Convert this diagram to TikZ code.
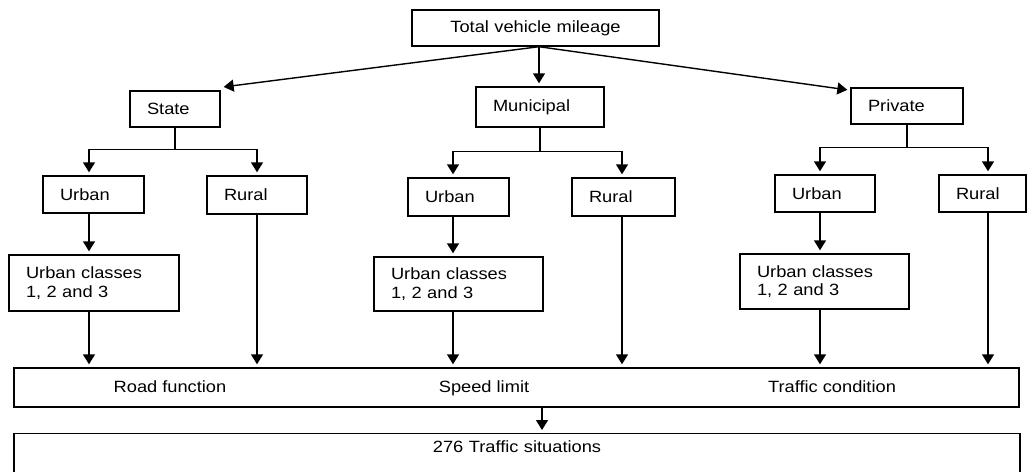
\documentclass[tikz,border=0pt]{standalone}
\usepackage{fontspec}
\setmainfont{Liberation Sans}[FakeStretch=1.12]
\usetikzlibrary{arrows.meta}
\begin{document}
\begin{tikzpicture}[x=1pt, y=-1pt, line width=1.4pt,
  box/.style={draw, align=left, inner xsep=17pt, inner ysep=0pt,
    font=\fontsize{16.3}{18.5}\selectfont},
  lbl/.style={inner sep=0pt, font=\fontsize{16.3}{18.5}\selectfont},
  arr/.style={-{Triangle[length=10pt,width=12pt]}, shorten >=3pt}]
\useasboundingbox (0,0) rectangle (1032,471);

% columns of the vertical connectors
\coordinate (c0) at (539,0);
\coordinate (c1) at (89,0);
\coordinate (c2) at (257,0);
\coordinate (c3) at (453,0);
\coordinate (c4) at (622,0);
\coordinate (c5) at (820,0);
\coordinate (c6) at (988,0);
\coordinate (c7) at (542,0);

% top level
\node[box, align=center, text width=213pt, minimum height=36pt] (tot) at (535.5,28) {Total vehicle mileage};

% road owners
\node[box, text width=56pt, minimum height=36pt] (state) at (175,109) {State};
\node[box, text width=94pt, minimum height=40pt] (mun) at (540,107) {Municipal};
\node[box, text width=78pt, minimum height=36pt] (priv) at (907,106) {Private};

% urban / rural split
\node[box, text width=67pt, minimum height=37pt] (su) at (93.5,194.5) {Urban};
\node[box, text width=66pt, minimum height=38pt] (sr) at (257,195) {Rural};
\node[box, text width=67pt, minimum height=38pt] (mu) at (458.5,197) {Urban};
\node[box, text width=69pt, minimum height=38pt] (mr) at (623.5,197) {Rural};
\node[box, text width=66pt, minimum height=37pt] (pu) at (825,193.5) {Urban};
\node[box, text width=53pt, minimum height=37pt] (pr) at (982.5,193.5) {Rural};

% urban classes
\node[box, text width=136pt, minimum height=56pt] (suc) at (94,283) {Urban classes\\1, 2 and 3};
\node[box, text width=135pt, minimum height=54pt] (muc) at (458.5,284) {Urban classes\\1, 2 and 3};
\node[box, text width=135pt, minimum height=55pt] (puc) at (824.5,281.5) {Urban classes\\1, 2 and 3};

% attribute bar
\node[draw, inner sep=0pt, minimum width=1005pt, minimum height=39pt] (bar) at (516.5,387.5) {};
\node[lbl, anchor=base] (rf) at (170,392) {Road function};
\node[lbl, anchor=base] (sl) at (484,392) {Speed limit};
\node[lbl, anchor=base] (tc) at (832,392) {Traffic condition};

% result
\node[draw, anchor=north, inner sep=0pt, text width=1006pt, align=center,
  text height=19pt, text depth=25pt, font=\fontsize{16.3}{18.5}\selectfont] (sit) at (517,433) {276 Traffic situations};

% connectors from the top box
\draw[arr] (c0 |- tot.south) -- ([yshift=3pt]state.north east);
\draw[arr] (c0 |- tot.south) -- (c0 |- mun.north);
\draw[arr] (c0 |- tot.south) -- ([yshift=-3pt]priv.north west);

% owner -> urban / rural
\draw[arr] (state.south) -- ++(0,22) -| (c1 |- su.north);
\draw[arr] (state.south) ++(0,22) -| (c2 |- sr.north);
\draw[arr] (mun.south) -- ++(0,24) -| (c3 |- mu.north);
\draw[arr] (mun.south) ++(0,24) -| (c4 |- mr.north);
\draw[arr] (priv.south) -- ++(0,23) -| (c5 |- pu.north);
\draw[arr] (priv.south) ++(0,23) -| (c6 |- pr.north);

% urban -> classes
\draw[arr] (c1 |- su.south) -- (c1 |- suc.north);
\draw[arr] (c3 |- mu.south) -- (c3 |- muc.north);
\draw[arr] (c5 |- pu.south) -- (c5 |- puc.north);

% into the attribute bar
\draw[arr] (c1 |- suc.south) -- (c1 |- bar.north);
\draw[arr] (c2 |- sr.south) -- (c2 |- bar.north);
\draw[arr] (c3 |- muc.south) -- (c3 |- bar.north);
\draw[arr] (c4 |- mr.south) -- (c4 |- bar.north);
\draw[arr] (c5 |- puc.south) -- (c5 |- bar.north);
\draw[arr] (c6 |- pr.south) -- (c6 |- bar.north);

% bar -> traffic situations
\draw[arr] (c7 |- bar.south) -- (c7 |- sit.north);
\end{tikzpicture}
\end{document}
